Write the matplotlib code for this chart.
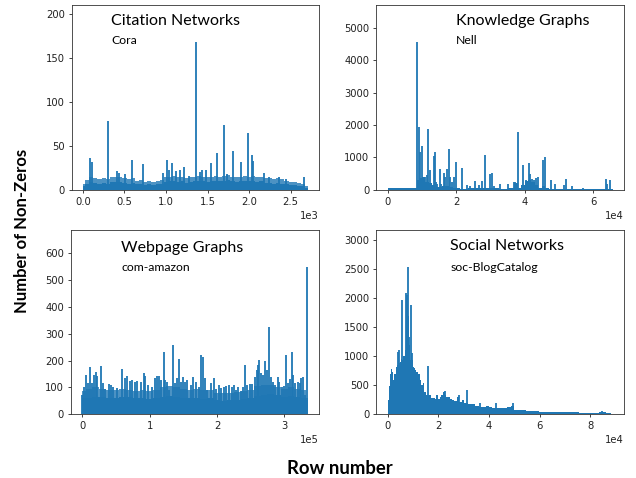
import matplotlib
matplotlib.use("Agg")
import matplotlib.pyplot as plt
from matplotlib.ticker import MultipleLocator

BLUE = "#1f77b4"

# ---------------- Cora (Citation Networks) ----------------
cora_base_rows = [0, 50, 100, 150, 200, 250, 300, 350, 400, 450, 500, 550, 600, 650, 700, 750, 800,
                  850, 900, 950, 1000, 1050, 1100, 1150, 1200, 1250, 1300, 1350, 1400, 1450, 1500,
                  1550, 1600, 1650, 1700, 1750, 1800, 1850, 1900, 1950, 2000, 2050, 2100, 2150, 2200,
                  2250, 2300, 2350, 2400, 2450, 2500, 2550, 2600, 2650, 2700, 2707]
cora_base_nnz = [4, 7, 9, 8, 7, 8, 7, 9, 9, 9, 8, 7, 8, 6, 7, 5, 6,
                 5, 6, 7, 9, 10, 10, 9, 10, 8, 9, 10, 10, 10, 9,
                 10, 10, 10, 10, 11, 10, 9, 10, 10, 10, 10, 9, 10, 8,
                 8, 7, 8, 7, 6, 5, 5, 4, 4, 2, 2]
cora_fringe_nnz = [6, 11, 14, 13, 12, 13, 12, 14, 15, 14, 13, 12, 13, 10, 11, 9, 10,
                   9, 10, 11, 14, 15, 16, 14, 15, 13, 14, 15, 16, 15, 14,
                   15, 16, 15, 16, 17, 15, 14, 15, 16, 15, 16, 14, 15, 13,
                   13, 12, 13, 12, 10, 9, 9, 8, 7, 4, 3]
cora_peak_rows = [80, 109, 306, 411, 435, 503, 592, 725, 962, 1015, 1039, 1071, 1115, 1163, 1220,
                  1276, 1357, 1409, 1437, 1486, 1538, 1618, 1699, 1739, 1812, 1908, 1981, 2033,
                  2045, 2174, 2242, 2363, 2444, 2665]
cora_peak_nnz = [36, 32, 78, 21, 19, 18, 34, 29, 19, 34, 23, 30, 21, 23, 26,
                 16, 168, 20, 23, 22, 30, 42, 74, 18, 44, 32, 65, 40,
                 33, 19, 14, 15, 12, 14]

# ---------------- Nell (Knowledge Graphs) ----------------
nell_base_rows = [0, 8600, 8700, 9500, 10500, 11500, 12500, 13500, 14500, 15500, 16500, 17500,
                  18500, 19500, 20500, 22000, 25000, 28000, 31000, 34000, 36500, 37500, 38500,
                  39500, 40500, 41500, 42500, 43500, 44500, 45500, 46500, 48000, 52000, 56000,
                  60000, 63500, 65000, 65755]
nell_base_nnz = [40, 40, 300, 350, 400, 250, 200, 150, 80, 100, 130, 120,
                 80, 60, 40, 30, 40, 50, 40, 30, 50, 220, 60,
                 150, 280, 300, 250, 150, 60, 120, 40, 30, 30, 25,
                 25, 30, 30, 20]
nell_peak_rows = [8683, 9073, 9366, 9951, 10300, 10900, 11400, 11900, 12290, 12800, 13460, 13850,
                  14240, 14540, 15220, 15600, 16390, 16880, 17370, 17950, 18340, 18830, 19410,
                  20000, 21760, 23220, 24000, 25660, 26630, 27610, 28490, 30050, 30540, 31120,
                  32780, 35220, 36880, 37360, 38050, 39610, 40490, 41170, 41560, 42050, 42730,
                  43410, 43900, 45370, 45950, 47710, 48780, 51510, 52000, 53760, 57070, 63800,
                  64200, 64880]
nell_peak_nnz = [4555, 1938, 1165, 1340, 340, 390, 443, 1887, 620, 185, 1030, 1165,
                 237, 185, 650, 186, 515, 390, 650, 1268, 392, 237, 392,
                 856, 680, 155, 103, 268, 134, 258, 1062, 495, 515, 103,
                 186, 165, 237, 227, 1784, 773, 289, 835, 474, 340, 289,
                 371, 392, 928, 1010, 309, 165, 134, 340, 103, 62, 330,
                 186, 309]

# ---------------- com-amazon (Webpage Graphs) ----------------
amazon_base_rows = [0, 10000, 20000, 30000, 40000, 50000, 60000, 70000, 80000, 90000, 100000,
                    110000, 120000, 130000, 140000, 150000, 160000, 170000, 180000, 190000,
                    200000, 210000, 220000, 230000, 240000, 250000, 260000, 270000, 280000,
                    290000, 300000, 310000, 320000, 330000, 334862]
amazon_base_nnz = [60, 62, 66, 64, 60, 62, 65, 63, 60, 62, 58,
                   60, 66, 68, 64, 62, 60, 62, 58, 60,
                   52, 50, 54, 52, 56, 60, 68, 72, 75,
                   70, 66, 68, 64, 62, 55]
amazon_fringe_nnz = [85, 95, 100, 95, 90, 92, 95, 90, 88, 92, 88,
                     90, 100, 105, 100, 95, 92, 95, 90, 92,
                     80, 78, 80, 82, 85, 90, 105, 110, 110,
                     100, 95, 100, 95, 90, 60]
amazon_peak_rows = [0, 2000, 6000, 8500, 12000, 15000, 17400, 19900, 22400, 27400, 31400, 34400,
                    38900, 42400, 46300, 50800, 59300, 63300, 66300, 70800, 73700, 78200, 81700,
                    87200, 91200, 93700, 97200, 103100, 108100, 111100, 113600, 116600, 120600,
                    123100, 126100, 129100, 134000, 137500, 140500, 144000, 147000, 150000,
                    153000, 156000, 161000, 165000, 169400, 172900, 175900, 178900, 181900,
                    185900, 191800, 195300, 198800, 203300, 206300, 210300, 213800, 217800,
                    221800, 225200, 227700, 231700, 235200, 238200, 241700, 245200, 249200,
                    252600, 256100, 259100, 261100, 262600, 265600, 269100, 271100, 274100,
                    276600, 279600, 283500, 286500, 290000, 292500, 296000, 299500, 302500,
                    306000, 308000, 311000, 312400, 316400, 320400, 322900, 324900, 328400,
                    330900, 333900]
amazon_peak_nnz = [72, 103, 146, 115, 175, 115, 146, 159, 143, 181, 118, 93,
                   113, 109, 103, 99, 169, 134, 144, 125, 128, 122, 124,
                   122, 155, 143, 109, 103, 134, 143, 143, 128, 231,
                   128, 119, 91, 259, 118, 134, 206, 122, 140,
                   122, 128, 109, 140, 122, 103, 221, 214, 134,
                   91, 115, 134, 93, 109, 99, 100, 105, 109,
                   100, 109, 91, 103, 88, 103, 183, 109, 113,
                   112, 138, 165, 183, 202, 152, 146, 198, 165,
                   326, 140, 122, 109, 138, 122, 103, 105, 221,
                   115, 130, 231, 146, 115, 122, 115, 136, 140,
                   72, 550]

# ---------------- soc-BlogCatalog (Social Networks) ----------------
blog_base_rows = [0, 300, 700, 1100, 1500, 2000, 2400, 3000, 3700, 4100, 4600, 5100, 5500, 6000,
                  6500, 7000, 7400, 7800, 8200, 8600, 9000, 9400, 9800, 10200, 10700, 11100,
                  11600, 12300, 12900, 13600, 14200, 14900, 15500, 16100, 16600, 17300, 18200,
                  18900, 19500, 20200, 20800, 21500, 22100, 22800, 23500, 24100, 24800, 25700,
                  26800, 27800, 28700, 29700, 30700, 32700, 34000, 35300, 36600, 38000, 39300,
                  40600, 41900, 43900, 45200, 46500, 47800, 49200, 50500, 53100, 55800, 58400,
                  61000, 63700, 66300, 68900, 71600, 74200, 76800, 79500, 82100, 84800, 87400,
                  88783]
blog_base_nnz = [80, 250, 480, 700, 780, 730, 590, 700, 820, 850, 880, 900, 950, 930,
                 1000, 1100, 1500, 1900, 1700, 1200, 930, 1000, 930, 810, 790, 760,
                 730, 700, 590, 505, 530, 390, 330, 340, 330, 275, 285,
                 260, 330, 260, 290, 330, 380, 330, 300, 290, 260, 245,
                 235, 300, 220, 245, 190, 175, 175, 145, 130, 120, 140,
                 120, 115, 100, 115, 100, 130, 145, 75, 75, 63, 52,
                 46, 40, 40, 40, 34, 34, 29, 29, 23, 40, 17, 5]
blog_peak_rows = [4090, 4610, 5540, 7380, 7780, 8170, 8570, 9360, 9750, 16080, 22500, 28000,
                  31500, 36500, 42600, 49500, 84700]
blog_peak_nnz = [1078, 1100, 1968, 2083, 2054, 2541, 1337, 1882, 1060, 830, 400, 330,
                 410, 200, 190, 190, 50]

panels = [
    ("Citation Networks", "Cora", cora_base_rows, cora_base_nnz, cora_fringe_nnz,
     cora_peak_rows, cora_peak_nnz, 50, 500, (0.159, 0.917), (0.159, 0.809)),
    ("Knowledge Graphs", "Nell", nell_base_rows, nell_base_nnz, None,
     nell_peak_rows, nell_peak_nnz, 1000, 20000, (0.32, 0.913), (0.32, 0.81)),
    ("Webpage Graphs", "com-amazon", amazon_base_rows, amazon_base_nnz, amazon_fringe_nnz,
     amazon_peak_rows, amazon_peak_nnz, 100, 100000, (0.2016, 0.90), (0.2016, 0.795)),
    ("Social Networks", "soc-BlogCatalog", blog_base_rows, blog_base_nnz, None,
     blog_peak_rows, blog_peak_nnz, 500, 20000, (0.299, 0.913), (0.299, 0.795)),
]

plt.rcParams.update({
    "font.size": 7.2,
    "axes.linewidth": 0.6,
    "xtick.major.size": 2.5,
    "ytick.major.size": 2.5,
    "xtick.major.width": 0.6,
    "ytick.major.width": 0.6,
    "xtick.major.pad": 2.5,
    "ytick.major.pad": 2.5,
})

fig = plt.figure(figsize=(6.36, 4.78), dpi=100)
rects = [
    [0.1127, 0.603, 0.389, 0.386],
    [0.5917, 0.603, 0.3894, 0.386],
    [0.1117, 0.1333, 0.3899, 0.386],
    [0.5917, 0.1333, 0.3894, 0.386],
]
TITLE_FONT = ["Lato", "DejaVu Sans"]

for rect, (title, name, brows, bnnz, fnnz, prows, pnnz, ystep, xstep, tpos, npos) in zip(rects, panels):
    ax = fig.add_axes(rect)
    if fnnz is not None:
        ax.fill_between(brows, 0, fnnz, step="mid", color=BLUE, lw=0, alpha=0.8)
    ax.fill_between(brows, 0, bnnz, step="mid", color=BLUE, lw=0)
    ax.vlines(prows, 0, pnnz, color=BLUE, lw=1.3)
    ax.set_ylim(0, max(pnnz) * 1.25)
    ax.yaxis.set_major_locator(MultipleLocator(ystep))
    ax.xaxis.set_major_locator(MultipleLocator(xstep))
    ax.ticklabel_format(axis="x", style="sci", scilimits=(0, 0))
    ax.tick_params(colors="#222222")
    for s in ax.spines.values():
        s.set_color("#333333")
    ax.text(tpos[0], tpos[1], title, transform=ax.transAxes, family=TITLE_FONT,
            fontsize=11.5, va="center", ha="left", color="black")
    ax.text(npos[0], npos[1], name, transform=ax.transAxes, family=TITLE_FONT,
            fontsize=8.8, va="center", ha="left", color="black")

fig.text(0.034, 0.517, "Number of Non-Zeros", rotation=90, family=TITLE_FONT,
         fontweight="bold", fontsize=12, va="center", ha="center")
fig.text(0.535, 0.019, "Row number", family=TITLE_FONT, fontweight="bold",
         fontsize=13.3, va="center", ha="center")

fig.savefig("out.png", dpi=100)
